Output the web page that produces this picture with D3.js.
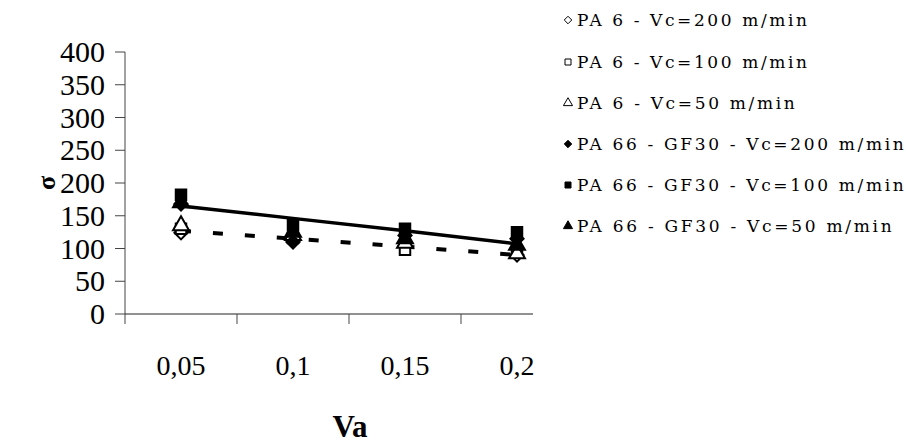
<!DOCTYPE html>
<html lang="en">
<head>
<meta charset="UTF-8"/>
<title>sigma vs Va</title>
<script src="https://d3js.org/d3.v7.min.js"></script>
<style>
  body { margin: 0; background: #fff; }
  text { font-family: "Liberation Serif", "DejaVu Serif", serif; }
</style>
</head>
<body>
<svg id="chart" width="906" height="445"></svg>
<script>
// categories on the x axis
var categories = ["0,05", "0,1", "0,15", "0,2"]
var yTicks = [0, 50, 100, 150, 200, 250, 300, 350, 400]

// series values
var pa6_200 = [124, 112, 104, 90]
var pa6_100 = [130, 116, 98, 95]
var pa6_50 = [135, 120, 108, 92]
var pa66_200 = [168, 110, 120, 115]
var pa66_100 = [182, 136, 130, 125]
var pa66_50 = [170, 125, 115, 105]

// trend lines (values read at each category)
var trendSolid = [165, 146, 127, 107]
var trendDashed = [127, 115, 103, 90]

var seriesNames = ["PA 6 - Vc=200 m/min", "PA 6 - Vc=100 m/min", "PA 6 - Vc=50 m/min",
  "PA 66 - GF30 - Vc=200 m/min", "PA 66 - GF30 - Vc=100 m/min", "PA 66 - GF30 - Vc=50 m/min"]
var diamond = d3.symbolDiamond2 || d3.symbolDiamond
var series = [
  {name: seriesNames[0], values: pa6_200, shape: diamond, filled: false},
  {name: seriesNames[1], values: pa6_100, shape: d3.symbolSquare, filled: false},
  {name: seriesNames[2], values: pa6_50, shape: d3.symbolTriangle, filled: false},
  {name: seriesNames[3], values: pa66_200, shape: diamond, filled: true},
  {name: seriesNames[4], values: pa66_100, shape: d3.symbolSquare, filled: true},
  {name: seriesNames[5], values: pa66_50, shape: d3.symbolTriangle, filled: true}
]

var svg = d3.select("#chart")

var plotLeft = 125, plotTop = 52, plotBottom = 314
var x = d3.scaleBand().domain(categories).range([plotLeft, 573])
var y = d3.scaleLinear().domain([0, 400]).range([plotBottom, plotTop])
var axisEnd = 533

// y axis
svg.append("line")
  .attr("x1", plotLeft).attr("x2", plotLeft)
  .attr("y1", y(400)).attr("y2", plotBottom + 10)
  .attr("stroke", "#444").attr("stroke-width", 1)
svg.selectAll("ytick").data(yTicks).enter().append("line")
  .attr("x1", plotLeft - 10).attr("x2", plotLeft)
  .attr("y1", function(d) { return y(d) }).attr("y2", function(d) { return y(d) })
  .attr("stroke", "#444")
svg.selectAll("ylab").data(yTicks).enter().append("text")
  .attr("x", plotLeft - 20).attr("y", function(d) { return y(d) })
  .attr("dy", "0.34em")
  .attr("text-anchor", "end")
  .style("font-size", "30px")
  .text(function(d) { return d })

// x axis
svg.append("line")
  .attr("x1", plotLeft).attr("x2", axisEnd)
  .attr("y1", plotBottom).attr("y2", plotBottom)
  .attr("stroke", "#222").attr("stroke-width", 1)
svg.selectAll("xtick").data(categories.slice(1)).enter().append("line")
  .attr("x1", function(d) { return x(d) }).attr("x2", function(d) { return x(d) })
  .attr("y1", plotBottom).attr("y2", plotBottom + 10)
  .attr("stroke", "#444")
svg.selectAll("xlab").data(categories).enter().append("text")
  .attr("x", function(d) { return x(d) + x.bandwidth() / 2 })
  .attr("y", 365)
  .attr("dy", "0.34em")
  .attr("text-anchor", "middle")
  .style("font-size", "28px")
  .text(function(d) { return d })

// axis titles
svg.append("text")
  .attr("x", 350).attr("y", 437)
  .attr("text-anchor", "middle")
  .style("font-size", "31px").style("font-weight", "bold")
  .text("Va")
svg.append("text")
  .attr("transform", "translate(55,183) rotate(-90)")
  .attr("text-anchor", "middle")
  .style("font-size", "26px").style("font-weight", "bold")
  .text("σ")

// trend lines
var line = d3.line()
  .x(function(d, i) { return x(categories[i]) + x.bandwidth() / 2 })
  .y(function(d) { return y(d) })
svg.append("path").datum(trendDashed)
  .attr("d", line).attr("fill", "none")
  .attr("stroke", "#000").attr("stroke-width", 4)
  .attr("stroke-dasharray", "10,22")
svg.append("path").datum(trendSolid)
  .attr("d", line).attr("fill", "none")
  .attr("stroke", "#000").attr("stroke-width", 3.5)

// markers
var sym = d3.symbol().size(110)
series.forEach(function(s) {
  svg.selectAll("m").data(s.values).enter().append("path")
    .attr("d", sym.type(s.shape)())
    .attr("transform", function(d, i) {
      return "translate(" + (x(categories[i]) + x.bandwidth() / 2) + "," + y(d) + ")"
    })
    .attr("fill", s.filled ? "#000" : "#fff")
    .attr("stroke", "#000").attr("stroke-width", 2)
})

// legend
var legY = [20, 62, 103, 144, 185, 226]
series.forEach(function(s, i) {
  svg.append("path")
    .attr("d", d3.symbol().type(s.shape).size(36)())
    .attr("transform", "translate(568," + legY[i] + ")")
    .attr("fill", s.filled ? "#000" : "#fff")
    .attr("stroke", "#000").attr("stroke-width", 1)
  svg.append("text")
    .attr("x", 577).attr("y", legY[i])
    .attr("dy", "0.34em")
    .attr("textLength", s.name.length * 12.1)
    .attr("lengthAdjust", "spacing")
    .style("font-family", "'DejaVu Serif', serif")
    .style("font-size", "17px")
    .text(s.name)
})
</script>
</body>
</html>
